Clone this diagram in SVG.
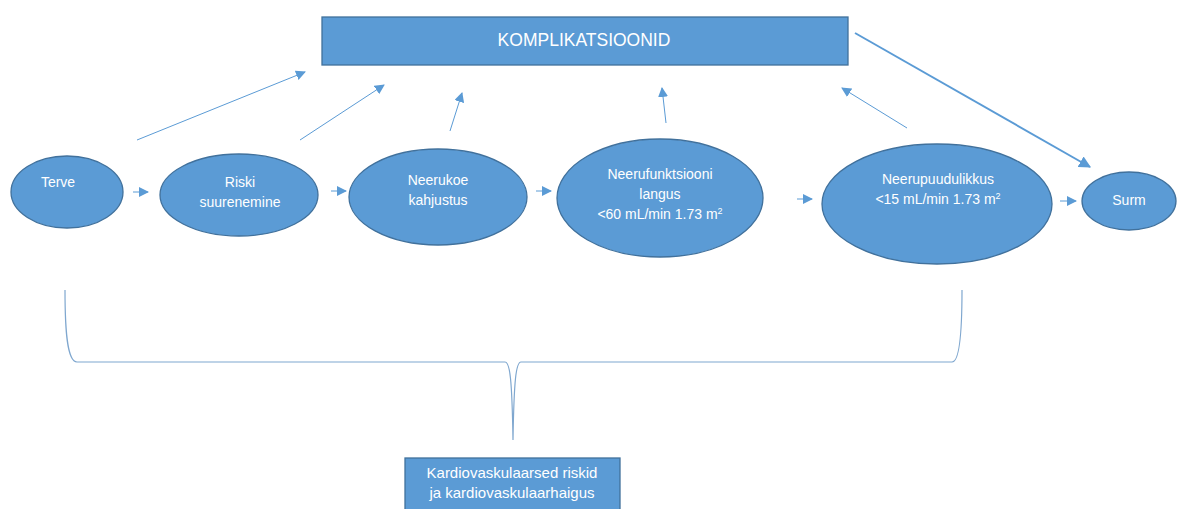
<svg xmlns="http://www.w3.org/2000/svg" width="1183" height="509" viewBox="0 0 1183 509">
<style>
.node{fill:#5B9BD5;stroke:#41719C;stroke-width:1.3}
.t{font-family:"Liberation Sans",Arial,sans-serif;fill:#fff;text-anchor:middle;font-size:14px}
.c{stroke:#5B9BD5;stroke-width:1;fill:none}
.br{stroke:#7FA7CF;stroke-width:1.2;fill:none}
.sup{font-size:9px}
</style>
<defs>
<marker id="ah" viewBox="0 0 10 10" refX="9" refY="5" markerWidth="10" markerHeight="10" markerUnits="userSpaceOnUse" orient="auto">
<path d="M0,0 L10,5 L0,10 z" fill="#5B9BD5"/>
</marker>
<marker id="ah2" viewBox="0 0 10 10" refX="9" refY="5" markerWidth="6" markerHeight="6" orient="auto">
<path d="M0,0 L10,5 L0,10 z" fill="#5B9BD5"/>
</marker>
</defs>
<rect width="1183" height="509" fill="#fff"/>
<g id="komplikatsioonid">
<rect class="node" x="322" y="17" width="526" height="48"/>
<text class="t" x="584" y="46" style="font-size:17.5px">KOMPLIKATSIOONID</text>
</g>
<g id="terve">
<ellipse class="node" cx="67" cy="192" rx="56" ry="36"/>
<text class="t" x="58" y="187">Terve</text>
</g>
<g id="riski">
<ellipse class="node" cx="239" cy="195" rx="79" ry="41"/>
<text class="t" x="240" y="187">Riski</text>
<text class="t" x="240" y="207">suurenemine</text>
</g>
<g id="neerukoe">
<ellipse class="node" cx="438" cy="197" rx="89" ry="48"/>
<text class="t" x="438" y="185">Neerukoe</text>
<text class="t" x="438" y="205">kahjustus</text>
</g>
<g id="neerufunktsiooni">
<ellipse class="node" cx="660" cy="198" rx="103" ry="59"/>
<text class="t" x="660" y="179">Neerufunktsiooni</text>
<text class="t" x="660" y="199">langus</text>
<text class="t" x="660" y="219">&lt;60 mL/min 1.73 m<tspan class="sup" dy="-5">2</tspan></text>
</g>
<g id="neerupuudulikkus">
<ellipse class="node" cx="937" cy="204" rx="115" ry="60"/>
<text class="t" x="938" y="184">Neerupuudulikkus</text>
<text class="t" x="938" y="204">&lt;15 mL/min 1.73 m<tspan class="sup" dy="-5">2</tspan></text>
</g>
<g id="surm">
<ellipse class="node" cx="1129" cy="201" rx="47" ry="29"/>
<text class="t" x="1129" y="205">Surm</text>
</g>
<g id="kardio">
<rect class="node" x="405" y="458" width="215" height="56"/>
<text class="t" x="512" y="478" style="font-size:15px">Kardiovaskulaarsed riskid</text>
<text class="t" x="512" y="498" style="font-size:15px">ja kardiovaskulaarhaigus</text>
</g>
<g id="connectors">
<line class="c" x1="137" y1="140" x2="305" y2="72" marker-end="url(#ah)"/>
<line class="c" x1="300" y1="140" x2="384" y2="85" marker-end="url(#ah)"/>
<line class="c" x1="450" y1="131" x2="462" y2="93" marker-end="url(#ah)"/>
<line class="c" x1="666" y1="123" x2="662" y2="88" marker-end="url(#ah)"/>
<line class="c" x1="907" y1="128" x2="842" y2="88" marker-end="url(#ah)"/>
<line class="c" x1="855" y1="33" x2="1090" y2="167" style="stroke-width:2" marker-end="url(#ah2)"/>
<line class="c" x1="133" y1="192" x2="148" y2="192" marker-end="url(#ah)"/>
<line class="c" x1="331" y1="191" x2="346" y2="191" marker-end="url(#ah)"/>
<line class="c" x1="536" y1="191" x2="551" y2="191" marker-end="url(#ah)"/>
<line class="c" x1="797" y1="199" x2="812" y2="199" marker-end="url(#ah)"/>
<line class="c" x1="1060" y1="201" x2="1076" y2="201" marker-end="url(#ah)"/>
<path class="br" d="M65,290 C65,330 67,362 77,362 L505,362 C510,362 512,380 513,440 C514,380 516,362 521,362 L952,362 C960,362 962,330 962,290"/>
</g>
</svg>
